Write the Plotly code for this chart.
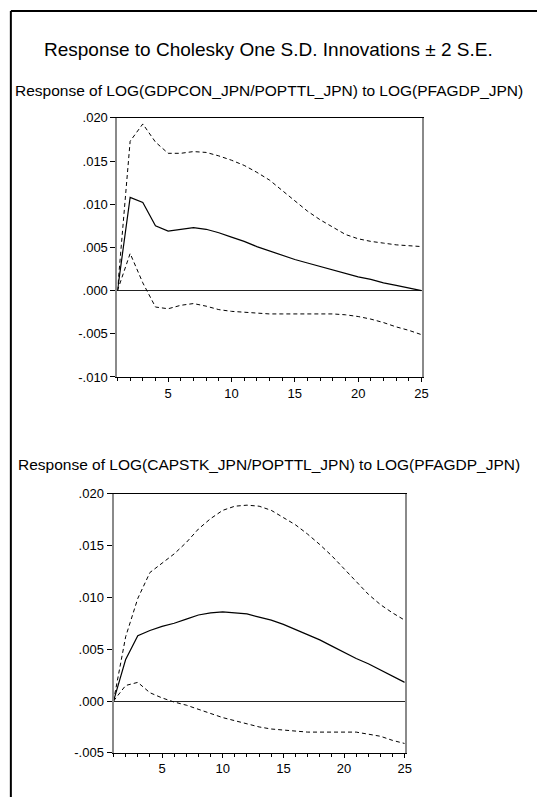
import plotly.graph_objects as go

periods = list(range(1, 26))

# Panel 1: Response of LOG(GDPCON_JPN/POPTTL_JPN)
gdp_resp = [0.0000, 0.0108, 0.0102, 0.0075, 0.0069, 0.0071, 0.0073, 0.0071, 0.0067, 0.0062,
            0.0057, 0.0051, 0.0046, 0.0041, 0.0036, 0.0032, 0.0028, 0.0024, 0.0020, 0.0016,
            0.0013, 0.0009, 0.0006, 0.0003, 0.0000]
gdp_upper = [0.0000, 0.0173, 0.0193, 0.0172, 0.0159, 0.0159, 0.0161, 0.0160, 0.0156, 0.0151,
             0.0145, 0.0137, 0.0128, 0.0116, 0.0104, 0.0092, 0.0082, 0.0073, 0.0065, 0.0060,
             0.0057, 0.0055, 0.0053, 0.0052, 0.0051]
gdp_lower = [0.0000, 0.0043, 0.0009, -0.0019, -0.0021, -0.0017, -0.0015, -0.0018, -0.0022, -0.0024,
             -0.0025, -0.0026, -0.0027, -0.0027, -0.0027, -0.0027, -0.0027, -0.0027, -0.0028, -0.0030,
             -0.0033, -0.0037, -0.0042, -0.0046, -0.0051]

# Panel 2: Response of LOG(CAPSTK_JPN/POPTTL_JPN)
cap_resp = [0.0000, 0.0040, 0.0063, 0.0068, 0.0072, 0.0075, 0.0079, 0.0083, 0.0085, 0.0086,
            0.0085, 0.0084, 0.0081, 0.0078, 0.0074, 0.0069, 0.0064, 0.0059, 0.0053, 0.0047,
            0.0041, 0.0036, 0.0030, 0.0024, 0.0018]
cap_upper = [0.0000, 0.0062, 0.0099, 0.0124, 0.0133, 0.0142, 0.0153, 0.0166, 0.0176, 0.0184,
             0.0188, 0.0189, 0.0188, 0.0184, 0.0177, 0.0170, 0.0161, 0.0151, 0.0140, 0.0128,
             0.0115, 0.0103, 0.0093, 0.0085, 0.0078]
cap_lower = [0.0000, 0.0015, 0.0018, 0.0008, 0.0003, -0.0001, -0.0004, -0.0008, -0.0012, -0.0016,
             -0.0019, -0.0022, -0.0025, -0.0027, -0.0028, -0.0029, -0.0030, -0.0030, -0.0030, -0.0030,
             -0.0030, -0.0032, -0.0034, -0.0038, -0.0041]

y1_vals = [0.020, 0.015, 0.010, 0.005, 0.000, -0.005, -0.010]
y1_text = [".020", ".015", ".010", ".005", ".000", "-.005", "-.010"]
y2_vals = [0.020, 0.015, 0.010, 0.005, 0.000, -0.005]
y2_text = [".020", ".015", ".010", ".005", ".000", "-.005"]
x_vals = [5, 10, 15, 20, 25]

main_title = "Response to Cholesky One S.D. Innovations \u00b1 2 S.E."
sub1 = "Response of LOG(GDPCON_JPN/POPTTL_JPN) to LOG(PFAGDP_JPN)"
sub2 = "Response of LOG(CAPSTK_JPN/POPTTL_JPN) to LOG(PFAGDP_JPN)"

W, H = 544, 805
FONT = "Liberation Sans, Arial, sans-serif"

fig = go.Figure()

def add_panel(resp, up, lo, xa, ya):
    fig.add_trace(go.Scatter(x=periods, y=up, mode="lines", xaxis=xa, yaxis=ya,
                             line=dict(color="black", width=1, dash="4px,3px"), showlegend=False))
    fig.add_trace(go.Scatter(x=periods, y=lo, mode="lines", xaxis=xa, yaxis=ya,
                             line=dict(color="black", width=1, dash="4px,3px"), showlegend=False))
    fig.add_trace(go.Scatter(x=periods, y=resp, mode="lines", xaxis=xa, yaxis=ya,
                             line=dict(color="black", width=1.2), showlegend=False))

add_panel(gdp_resp, gdp_upper, gdp_lower, "x", "y")
add_panel(cap_resp, cap_upper, cap_lower, "x2", "y2")

def xaxis_cfg(dom, anchor):
    return dict(domain=dom, anchor=anchor, range=[1, 25], tickvals=x_vals,
                showline=True, linecolor="black", linewidth=1, mirror=True,
                ticks="outside", ticklen=4, tickcolor="black", tickwidth=1,
                minor=dict(dtick=1, tick0=1, ticks="outside", ticklen=3, tickcolor="black"),
                showgrid=False, zeroline=False,
                tickfont=dict(family=FONT, size=13, color="black"))

def yaxis_cfg(dom, anchor, rng, vals, text):
    return dict(domain=dom, anchor=anchor, range=rng, tickvals=vals, ticktext=text,
                showline=True, linecolor="#8a8a8a", linewidth=2, mirror=True,
                ticks="outside", ticklen=5, tickcolor="black", tickwidth=1,
                showgrid=False, zeroline=True, zerolinecolor="#222222", zerolinewidth=1,
                tickfont=dict(family=FONT, size=13, color="black"))

fx = 11 / W
fy = 1 - 4 / H
fig.update_layout(
    width=W, height=H, margin=dict(l=0, r=0, t=0, b=0),
    paper_bgcolor="white", plot_bgcolor="white",
    xaxis=xaxis_cfg([119 / W, 427 / W], "y"),
    yaxis=yaxis_cfg([1 - 377 / H, 1 - 113 / H], "x", [-0.010, 0.020], y1_vals, y1_text),
    xaxis2=xaxis_cfg([115 / W, 410 / W], "y2"),
    yaxis2=yaxis_cfg([1 - 760 / H, 1 - 496 / H], "x2", [-0.005, 0.020], y2_vals, y2_text),
    font=dict(family=FONT, color="black"),
    annotations=[
        dict(text=main_title, x=272 / W, y=1 - 43 / H, xref="paper", yref="paper",
             showarrow=False, xanchor="center", yanchor="middle",
             font=dict(family=FONT, size=19, color="black")),
        dict(text=sub1, x=273 / W, y=1 - 85 / H, xref="paper", yref="paper",
             showarrow=False, xanchor="center", yanchor="middle",
             font=dict(family=FONT, size=15.5, color="black")),
        dict(text=sub2, x=273 / W, y=1 - 466 / H, xref="paper", yref="paper",
             showarrow=False, xanchor="center", yanchor="middle",
             font=dict(family=FONT, size=15.5, color="black")),
    ],
    shapes=[
        dict(type="line", xref="paper", yref="paper", x0=fx, x1=fx, y0=0, y1=fy,
             line=dict(color="black", width=2), layer="above"),
        dict(type="line", xref="paper", yref="paper", x0=fx, x1=1, y0=fy, y1=fy,
             line=dict(color="black", width=2), layer="above"),
    ],
)

fig.write_html("out.html", config={"displayModeBar": False},
               post_script="document.body.style.margin='0px';document.body.style.overflow='hidden';")
